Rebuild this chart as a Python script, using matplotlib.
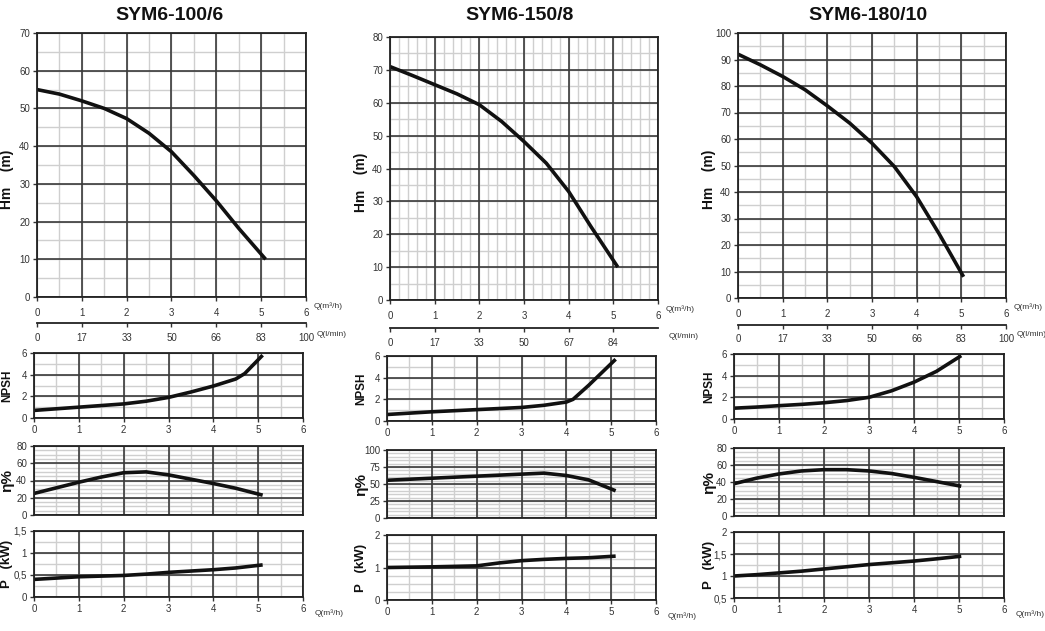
import numpy as np
import matplotlib
matplotlib.use("Agg")
from matplotlib import pyplot as plt

plt.rcParams['font.family'] = ['Liberation Sans Narrow', 'Liberation Sans', 'DejaVu Sans']

# --- data ---
titles = ["SYM6-100/6", "SYM6-150/8", "SYM6-180/10"]
lmin_labels = [["0", "17", "33", "50", "66", "83", "100"],
               ["0", "17", "33", "50", "67", "84"],
               ["0", "17", "33", "50", "66", "83", "100"]]

# SYM6-100/6
q_100 = [0, 0.5, 1, 1.5, 2, 2.5, 3, 3.5, 4, 4.5, 5.1]
h_100 = [55, 53.8, 52, 50, 47.3, 43.4, 38.5, 32.2, 25.5, 18.2, 10]
npsh_q_100 = [0, 0.5, 1, 1.5, 2, 2.5, 3, 3.5, 4, 4.5, 4.7, 5.1]
npsh_100 = [0.7, 0.85, 1.0, 1.15, 1.3, 1.55, 1.9, 2.4, 2.95, 3.6, 4.1, 5.8]
eta_100 = [25, 31.5, 38, 44, 49, 50, 46.5, 41.5, 36.5, 31, 23]
p_100 = [0.40, 0.43, 0.46, 0.475, 0.49, 0.52, 0.56, 0.59, 0.62, 0.66, 0.73]

# SYM6-150/8
q_150 = [0, 0.5, 1, 1.5, 2, 2.5, 3, 3.5, 4, 4.5, 5.1]
h_150 = [71, 68.3, 65.5, 62.7, 59.4, 54.3, 48.2, 41.6, 33, 22.3, 10]
npsh_q_150 = [0, 1, 2, 3, 3.5, 4, 4.15, 4.5, 5.1]
npsh_150 = [0.6, 0.85, 1.05, 1.25, 1.45, 1.75, 2.0, 3.3, 5.7]
eta_q_150 = [0, 1, 2, 3, 3.5, 4, 4.5, 5.1]
eta_150 = [55.5, 58.5, 61.5, 64.5, 66, 62.5, 56, 40]
p_q_150 = [0, 1, 2, 2.5, 3, 3.5, 4, 4.5, 5.1]
p_150 = [1.0, 1.02, 1.05, 1.14, 1.21, 1.25, 1.28, 1.3, 1.35]

# SYM6-180/10
q_180 = [0, 0.5, 1, 1.5, 2, 2.5, 3, 3.5, 4, 4.5, 5.05]
h_180 = [92, 88, 83.6, 78.6, 72.5, 66, 58.4, 49.6, 38.2, 24.3, 8]
npsh_180 = [1.0, 1.1, 1.23, 1.35, 1.5, 1.7, 2.0, 2.6, 3.4, 4.4, 5.85]
eta_180 = [38, 44.5, 49.5, 53, 54.5, 54.5, 53, 50, 45.5, 40.5, 35]
p_180 = [1.0, 1.03, 1.07, 1.11, 1.16, 1.21, 1.26, 1.30, 1.34, 1.39, 1.45]

W, H = 1045, 631
fig = plt.figure(figsize=(W / 100, H / 100), dpi=100)

GRID_DARK = '#3a3a3a'
GRID_LIGHT = '#cfcfcf'
TXT = '#333333'
TICK_SIZE = 7


def box(l, t, r, b):
    return [l / W, 1 - b / H, (r - l) / W, (b - t) / H]


def make_ax(pos, ylim, ymajor, yminor, xminor, ylabels=None):
    ax = fig.add_axes(box(*pos))
    ax.set_xlim(0, 6)
    ax.set_ylim(*ylim)
    ax.set_xticks(range(7))
    yt = np.arange(ylim[0], ylim[1] + 1e-6, ymajor)
    ax.set_yticks(yt)
    if ylabels is not None:
        ax.set_yticklabels(ylabels)
    # grid drawn by hand so the dark lines sit on top of the light ones
    for v in np.arange(0, 6.001, xminor):
        ax.axvline(v, color=GRID_LIGHT, lw=1.0, zorder=0.5)
    for v in np.arange(ylim[0], ylim[1] + 1e-6, yminor):
        ax.axhline(v, color=GRID_LIGHT, lw=1.0, zorder=0.5)
    for v in range(7):
        ax.axvline(v, color=GRID_DARK, lw=1.2, zorder=0.6)
    for v in yt:
        ax.axhline(v, color=GRID_DARK, lw=1.2, zorder=0.6)
    ax.tick_params(which='major', length=3, width=1, color='#333333',
                   labelcolor=TXT, labelsize=TICK_SIZE, pad=2)
    for s in ax.spines.values():
        s.set_color('#222222')
        s.set_linewidth(1.3)
        s.set_zorder(3)
    return ax


def curve(ax, x, y):
    ax.plot(x, y, color='#111111', lw=2.6, solid_capstyle='butt', zorder=2)


def ylab(x, y, text, size=9):
    fig.text(x / W, 1 - y / H, text, rotation=90, ha='center', va='center',
             fontsize=size, fontweight='bold', color='#111111')


def qlab(x, y, text):
    fig.text(x / W, 1 - y / H, text, ha='left', va='center', fontsize=6, color=TXT)


panels = [
    dict(title_x=170, main=(37, 33, 306, 297), npsh=(34, 353, 303, 418),
         eta=(34, 446, 303, 515), pw=(34, 531, 303, 597), lab_x=7, sec=-0.098,
         hlim=(0, 70), xmin_main=0.5),
    dict(title_x=520, main=(390, 37, 658, 300), npsh=(387, 356, 656, 421),
         eta=(387, 450, 656, 518), pw=(387, 535, 656, 600), lab_x=361, sec=-0.106,
         hlim=(0, 80), xmin_main=0.2),
    dict(title_x=868, main=(738, 33, 1006, 298), npsh=(734, 354, 1004, 419),
         eta=(734, 448, 1004, 516), pw=(734, 532, 1004, 598), lab_x=709, sec=-0.10,
         hlim=(0, 100), xmin_main=0.5),
]

h_data = [(q_100, h_100), (q_150, h_150), (q_180, h_180)]
npsh_data = [(npsh_q_100, npsh_100), (npsh_q_150, npsh_150), (q_180, npsh_180)]
eta_data = [(q_100, eta_100), (eta_q_150, eta_150), (q_180, eta_180)]
p_data = [(q_100, p_100), (p_q_150, p_150), (q_180, p_180)]

for i, pn in enumerate(panels):
    fig.text(pn['title_x'] / W, 1 - 15 / H, titles[i], ha='center', va='center',
             fontsize=14, fontweight='bold', color='#111111')

    # head curve
    ax = make_ax(pn['main'], pn['hlim'], 10, 5, pn['xmin_main'])
    curve(ax, *h_data[i])
    ax.tick_params(axis='x', pad=5)
    ticks = list(range(len(lmin_labels[i])))
    sec = ax.secondary_xaxis(pn['sec'])
    sec.set_xticks(ticks)
    sec.set_xticklabels(lmin_labels[i])
    sec.tick_params(length=3, width=1, color='#333333', labelcolor=TXT,
                    labelsize=TICK_SIZE, pad=4)
    sec.spines['bottom'].set_color('#222222')
    sec.spines['bottom'].set_linewidth(1.3)
    r = pn['main'][2]
    b = pn['main'][3]
    qlab(r + 8, b + 9, "Q(m³/h)")
    qlab(r + 11, b + 37, "Q(l/min)")
    ylab(pn['lab_x'], (pn['main'][1] + b) / 2 + 14, "Hm    (m)", 10)

    # NPSH
    ax = make_ax(pn['npsh'], (0, 6), 2, 1, 0.5)
    curve(ax, *npsh_data[i])
    ylab(pn['lab_x'], (pn['npsh'][1] + pn['npsh'][3]) / 2, "NPSH", 8.5)

    # efficiency
    if i == 1:
        ax = make_ax(pn['eta'], (0, 100), 25, 5, 0.5)
    else:
        ax = make_ax(pn['eta'], (0, 80), 20, 5, 0.5)
    ax.tick_params(axis='x', labelbottom=False, length=0)
    curve(ax, *eta_data[i])
    ylab(pn['lab_x'], (pn['eta'][1] + pn['eta'][3]) / 2, "η%", 11)

    # power
    if i == 0:
        ax = make_ax(pn['pw'], (0, 1.5), 0.5, 0.25, 0.5, ["0", "0,5", "1", "1,5"])
    elif i == 1:
        ax = make_ax(pn['pw'], (0, 2), 1, 0.25, 0.5)
    else:
        ax = make_ax(pn['pw'], (0.5, 2), 0.5, 0.25, 0.5, ["0,5", "1", "1,5", "2"])
    curve(ax, *p_data[i])
    ylab(pn['lab_x'], (pn['pw'][1] + pn['pw'][3]) / 2, "P   (kW)", 9.5)
    qlab(pn['pw'][2] + 12, pn['pw'][3] + 16, "Q(m³/h)")

fig.savefig("out.png", dpi=100)
